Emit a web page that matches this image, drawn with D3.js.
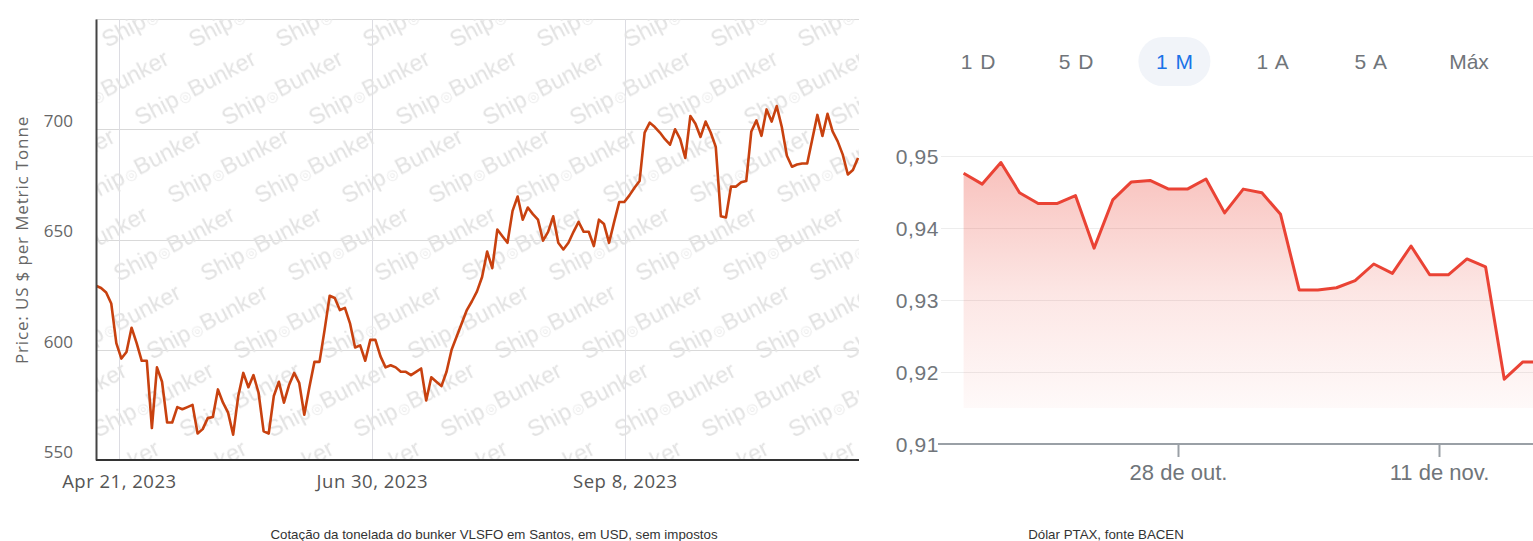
<!DOCTYPE html>
<html>
<head>
<meta charset="utf-8">
<script src="https://cdn.jsdelivr.net/npm/d3@7"></script>
<style>
  html, body { margin: 0; padding: 0; background: #fff; overflow: hidden; }
  svg { display: block; }
</style>
</head>
<body>
<svg id="chart" width="1533" height="541"></svg>
<script>
// ---------------- DATA ----------------
// Left chart: VLSFO Santos bunker price (US$/mt), one value per trading day (ordinal axis)
const priceValues = [
  629, 628, 626, 621, 603, 596, 599, 610, 603, 595,
  595, 564.5, 592, 585.5, 567, 567, 574, 573, 574, 575,
  562, 564, 569, 569.5, 582, 576, 571.5, 561.5, 579, 589.5,
  583, 588.5, 580.5, 563, 562, 579, 585.5, 576, 584, 589.5,
  585, 570.5, 583, 594.5, 594.5, 609, 624.5, 623.5, 618, 619,
  612, 601, 602, 595, 604.5, 604.5, 597, 592, 593, 592,
  590, 590, 588.5, 590, 591.5, 577, 587.5, 585.5, 583.5, 590,
  600, 606, 612, 618, 622, 626.5, 633, 644.5, 637, 654.5,
  651.5, 648.5, 663, 669.5, 659, 664.5, 661.5, 659, 649.5, 653.5,
  660.5, 648.5, 645.5, 648.5, 653.5, 658, 653.5, 653.5, 647, 659,
  657, 648.5, 658, 667, 667, 670, 673.5, 676.5, 698.5, 703,
  701, 698.5, 695.5, 693, 700, 695.5, 687, 706, 702.5, 696.5,
  703.5, 698.5, 692, 660.5, 660, 674, 674, 676, 676.5, 699,
  704, 697, 709, 703.5, 710.5, 701, 688, 683, 684, 684.5,
  684.5, 695.5, 706.5, 697, 707, 699, 694.5, 688.5, 679.5, 681.5,
  687
];
const priceTickIndex = [4.5, 54.3, 104.1];
const priceTickLabels = ["Apr 21, 2023", "Jun 30, 2023", "Sep 8, 2023"];
const priceYTicks = [550, 600, 650, 700];
const priceYDomain = [550, 750];
const priceYTitle = "Price: US $ per Metric Tonne";
const watermarkText = ["Ship", "◎", "Bunker"];

// Right chart: Dólar PTAX (1 M view)
const ptaxDates = [
  "2023-10-16T12:00", "2023-10-17T12:00", "2023-10-18T12:00", "2023-10-19T12:00",
  "2023-10-20T12:00", "2023-10-21T12:00", "2023-10-22T12:00", "2023-10-23T12:00",
  "2023-10-24T12:00", "2023-10-25T12:00", "2023-10-26T12:00", "2023-10-27T12:00",
  "2023-10-28T12:00", "2023-10-29T12:00", "2023-10-30T12:00", "2023-10-31T12:00",
  "2023-11-01T12:00", "2023-11-02T12:00", "2023-11-03T12:00", "2023-11-04T12:00",
  "2023-11-05T12:00", "2023-11-06T12:00", "2023-11-07T12:00", "2023-11-08T12:00",
  "2023-11-09T12:00", "2023-11-10T12:00", "2023-11-11T12:00", "2023-11-12T12:00",
  "2023-11-13T12:00", "2023-11-14T12:00", "2023-11-15T12:00", "2023-11-16T12:00"
];
const ptaxValues = [
  0.9476, 0.9461, 0.9491, 0.9449, 0.9434, 0.9434, 0.9445, 0.9372,
  0.9439, 0.9464, 0.9466, 0.9454, 0.9454, 0.9468, 0.9421, 0.9454,
  0.9449, 0.9419, 0.9314, 0.9314, 0.9317, 0.9327, 0.9350, 0.9337,
  0.9375, 0.9335, 0.9335, 0.9357, 0.9346, 0.9190, 0.9214, 0.9214
];
const ptaxYTicks = [0.91, 0.92, 0.93, 0.94, 0.95];
const ptaxYDomain = [0.91, 0.95];
const ptaxFillBase = 0.915;
const ptaxXTicks = ["2023-10-28T00:00", "2023-11-11T00:00"];
const ptaxXTickLabels = ["28 de out.", "11 de nov."];
const rangeButtons = ["1 D", "5 D", "1 M", "1 A", "5 A", "Máx"];
const activeButton = "1 M";

const captions = [
  "Cotação da tonelada do bunker VLSFO em Santos, em USD, sem impostos",
  "Dólar PTAX, fonte BACEN"
];

// ---------------- DRAW ----------------
const svg = d3.select("#chart");
svg.append("rect").attr("width", 1533).attr("height", 541).attr("fill", "#fff");
const defs = svg.append("defs");

// ===== LEFT CHART =====
const L = { left: 96, right: 859, top: 19, bottom: 460 };
const xL = d3.scaleLinear().domain([0, priceValues.length - 1]).range([96, 858]);
const yL = d3.scaleLinear().domain(priceYDomain).range([L.bottom, L.top]);

defs.append("clipPath").attr("id", "clipL")
  .append("rect").attr("x", L.left).attr("y", L.top)
  .attr("width", L.right - L.left).attr("height", L.bottom - L.top);

const gL = svg.append("g");

// gridlines
gL.append("g").selectAll("line").data(priceYTicks.slice(1).concat([priceYDomain[1]])).join("line")
  .attr("x1", L.left).attr("x2", L.right)
  .attr("y1", d => Math.round(yL(d)) + 0.5).attr("y2", d => Math.round(yL(d)) + 0.5)
  .attr("stroke", "#d9d9d9").attr("stroke-width", 1);
gL.append("g").selectAll("line").data(priceTickIndex).join("line")
  .attr("x1", d => Math.round(xL(d)) + 0.5).attr("x2", d => Math.round(xL(d)) + 0.5)
  .attr("y1", L.top).attr("y2", L.bottom)
  .attr("stroke", "#dcdce2").attr("stroke-width", 1);

// watermark pattern (Ship◎Bunker, tilted)
const pw = 87, ph = 78, skew = 22.9;
const pat = defs.append("pattern").attr("id", "wm")
  .attr("patternUnits", "userSpaceOnUse")
  .attr("width", pw).attr("height", ph)
  .attr("patternTransform", `skewX(${skew})`);
for (let i = -2; i <= 1; i++) {
  for (let j = -1; j <= 2; j++) {
    const t = pat.append("text")
      .attr("transform", `translate(${86.7 + i * pw},${48 + j * ph}) skewX(${-skew}) rotate(-28)`)
      .attr("font-family", "Liberation Sans, Arial, sans-serif")
      .attr("font-size", 23)
      .attr("fill", "#e2e2e2");
    t.append("tspan").text(watermarkText[0]);
    t.append("tspan").attr("font-size", 14).attr("dx", 1).attr("fill", "#ebebeb").text(watermarkText[1]);
    t.append("tspan").attr("dx", 1).text(watermarkText[2]);
  }
}
gL.append("rect").attr("x", L.left).attr("y", L.top)
  .attr("width", L.right - L.left).attr("height", L.bottom - L.top)
  .attr("fill", "url(#wm)");

// line
const lineL = d3.line().x((d, i) => xL(i)).y(d => yL(d)).curve(d3.curveLinear);
gL.append("path").datum(priceValues)
  .attr("clip-path", "url(#clipL)")
  .attr("d", lineL)
  .attr("fill", "none")
  .attr("stroke", "#c8410f")
  .attr("stroke-width", 2.6)
  .attr("stroke-linejoin", "round");

// axes
const axL = gL.append("g").attr("transform", `translate(${L.left},0)`)
  .call(d3.axisLeft(yL).tickValues(priceYTicks).tickSize(0).tickSizeOuter(0).tickPadding(23));
axL.select(".domain").attr("stroke", "#444").attr("stroke-width", 2);
axL.selectAll("text")
  .attr("font-family", "Open Sans, sans-serif").attr("font-size", 17)
  .attr("fill", "#666").attr("dy", "-0.15em");

const axB = gL.append("g").attr("transform", `translate(0,${L.bottom})`)
  .call(d3.axisBottom(xL).tickValues(priceTickIndex)
    .tickFormat((d, i) => priceTickLabels[i]).tickSize(0).tickSizeOuter(0).tickPadding(15));
axB.select(".domain").attr("d", `M${L.left},0H${L.right}`).attr("stroke", "#333").attr("stroke-width", 2);
axB.selectAll("text")
  .attr("font-family", "Open Sans, sans-serif").attr("font-size", 18.5)
  .attr("letter-spacing", 0.5)
  .attr("fill", "#555");

gL.append("text")
  .attr("transform", "translate(28,240) rotate(-90)")
  .attr("text-anchor", "middle")
  .attr("font-family", "Open Sans, sans-serif").attr("font-size", 17)
  .attr("letter-spacing", 0.85)
  .attr("fill", "#666")
  .text(priceYTitle);

// ===== RIGHT CHART =====
const parseT = d3.timeParse("%Y-%m-%dT%H:%M");
const ptax = ptaxDates.map((d, i) => ({ date: parseT(d), value: ptaxValues[i] }));
const tickDates = ptaxXTicks.map(parseT);
const xR = d3.scaleTime().domain(tickDates).range([1178, 1439]);
const yR = d3.scaleLinear().domain(ptaxYDomain).range([444, 156]);
const ptBR = d3.formatLocale({ decimal: ",", thousands: ".", grouping: [3], currency: ["R$", ""] });
const fmtR = ptBR.format(".2f");

const gR = svg.append("g");

// range buttons
const xb = d3.scalePoint().domain(rangeButtons).range([978, 1469]);
gR.append("rect")
  .attr("x", xb(activeButton) - 36).attr("y", 37).attr("width", 72).attr("height", 49)
  .attr("rx", 24.5).attr("fill", "#f1f4f9");
gR.append("g").selectAll("text").data(rangeButtons).join("text")
  .attr("x", d => xb(d)).attr("y", 61)
  .attr("text-anchor", "middle").attr("dominant-baseline", "central")
  .attr("font-family", "Liberation Sans, Arial, sans-serif").attr("font-size", 21)
  .attr("word-spacing", 2)
  .attr("fill", d => d === activeButton ? "#1a73e8" : "#70757a")
  .text(d => d);

// gridlines
gR.append("g").selectAll("line").data(ptaxYTicks.slice(1)).join("line")
  .attr("x1", 941).attr("x2", 1533)
  .attr("y1", d => Math.round(yR(d)) + 0.5).attr("y2", d => Math.round(yR(d)) + 0.5)
  .attr("stroke", "#ededed").attr("stroke-width", 1);

// area gradient
const grad = defs.append("linearGradient").attr("id", "gradR")
  .attr("gradientUnits", "userSpaceOnUse")
  .attr("x1", 0).attr("x2", 0).attr("y1", yR(0.95)).attr("y2", yR(ptaxFillBase));
grad.append("stop").attr("offset", 0).attr("stop-color", "#ea4335").attr("stop-opacity", 0.34);
grad.append("stop").attr("offset", 0.55).attr("stop-color", "#ea4335").attr("stop-opacity", 0.13);
grad.append("stop").attr("offset", 1).attr("stop-color", "#ea4335").attr("stop-opacity", 0.03);

const areaR = d3.area().x(d => xR(d.date)).y0(yR(ptaxFillBase)).y1(d => yR(d.value));
gR.append("path").datum(ptax).attr("d", areaR).attr("fill", "url(#gradR)");

const lineR = d3.line().x(d => xR(d.date)).y(d => yR(d.value));
gR.append("path").datum(ptax).attr("d", lineR)
  .attr("fill", "none").attr("stroke", "#ea4335")
  .attr("stroke-width", 3).attr("stroke-linejoin", "round");

// y axis
const ayR = gR.append("g").attr("transform", "translate(940,0)")
  .call(d3.axisLeft(yR).tickValues(ptaxYTicks).tickFormat(fmtR).tickSize(0).tickPadding(1));
ayR.select(".domain").remove();
ayR.selectAll("text")
  .attr("font-family", "Liberation Sans, Arial, sans-serif").attr("font-size", 21)
  .attr("letter-spacing", 0.6)
  .attr("fill", "#70757a").attr("dy", "0.36em");

// x axis
const axR = gR.append("g").attr("transform", `translate(0,${yR(ptaxYDomain[0])})`)
  .call(d3.axisBottom(xR).tickValues(tickDates)
    .tickFormat((d, i) => ptaxXTickLabels[i]).tickSize(13).tickSizeOuter(0).tickPadding(7));
axR.select(".domain").attr("d", "M938,0H1533").attr("stroke", "#9aa0a6").attr("stroke-width", 2);
axR.selectAll(".tick line").attr("stroke", "#9aa0a6").attr("stroke-width", 2);
axR.selectAll("text")
  .attr("font-family", "Liberation Sans, Arial, sans-serif").attr("font-size", 22)
  .attr("fill", "#70757a");

// ===== CAPTIONS =====
svg.append("g").selectAll("text").data(captions).join("text")
  .attr("x", (d, i) => [494, 1106][i]).attr("y", 539)
  .attr("text-anchor", "middle")
  .attr("font-family", "Liberation Sans, Arial, sans-serif").attr("font-size", 13.3)
  .attr("fill", "#333")
  .text(d => d);
</script>
</body>
</html>
